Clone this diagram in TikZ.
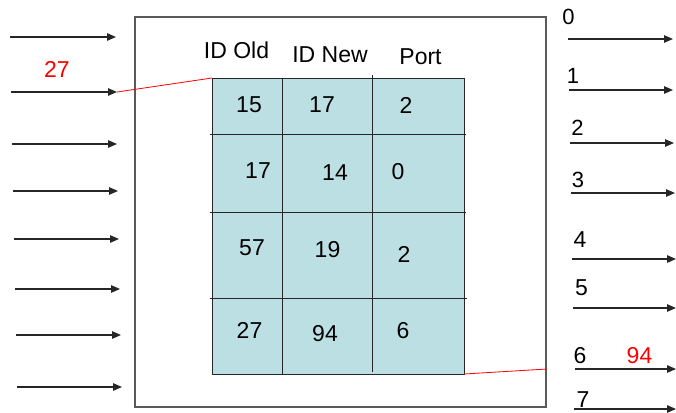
\documentclass[tikz,border=0pt]{standalone}
\usepackage{fontspec}
\setmainfont{Liberation Sans}
\usetikzlibrary{arrows.meta}
\definecolor{cellfill}{HTML}{BBDFE3}
\begin{document}
\begin{tikzpicture}[x=1pt,y=-1pt,
  lbl/.style={inner sep=0pt, anchor=base, font=\fontsize{23}{27}\selectfont},
  smalllbl/.style={inner sep=0pt, anchor=base, font=\fontsize{22}{26}\selectfont},
  linkarrow/.style={draw=black!85, line width=1.2pt, -{Triangle[length=9pt,width=7.5pt]}},
  gridline/.style={draw=black!85, line width=1pt},
  redline/.style={draw=red, line width=0.8pt}]
\useasboundingbox (0,0) rectangle (676,412);
% outer switch box
\node[draw=black!65, line width=1.2pt, inner sep=0pt, outer sep=0pt, minimum width=411pt, minimum height=390pt, anchor=north west] (box) at (135,17) {};
% table
\node[draw=black!85, fill=cellfill, line width=1pt, inner sep=0pt, outer sep=0pt, minimum width=252pt, minimum height=296pt, anchor=north west] (tab) at (212,78) {};
\draw[gridline] (210,134) -- (466,134);
\draw[gridline] (210,212) -- (466,212);
\draw[gridline] (210,298) -- (467,298);
\draw[gridline] (282.5,78) -- (282.5,374);
\draw[gridline] (372,75) -- (372,372);
% headers
\node[lbl] (h1) at (236.5,59) {ID Old};
\node[lbl] (h2) at (330,63) {ID New};
\node[lbl] (h3) at (420.5,64) {Port};
% cells
\node[lbl] (c11) at (249,112) {15};
\node[lbl] (c12) at (322,112) {17};
\node[lbl] (c13) at (406,113) {2};
\node[lbl] (c21) at (258,178) {17};
\node[lbl] (c22) at (335,180) {14};
\node[lbl] (c23) at (398,179) {0};
\node[lbl] (c31) at (252,255) {57};
\node[lbl] (c32) at (327.5,257) {19};
\node[lbl] (c33) at (404,262) {2};
\node[lbl] (c41) at (249.5,338) {27};
\node[lbl] (c42) at (325,341) {94};
\node[lbl] (c43) at (403,338) {6};
% input arrows
\foreach \i/\y/\xs/\xe in {1/37/10/116, 2/92/11/117, 3/144/12/117, 4/191/13/118, 5/239/14/119, 6/289/15/120, 7/335/16/121, 8/387/17/122} {
  \coordinate (inS\i) at (\xs,\y);
  \coordinate (inE\i) at (\xe,\y);
  \draw[linkarrow] (inS\i) -- (inE\i);
}
% output arrows
\foreach \i/\y/\xs/\xe in {0/39/568/673, 1/90/569/673, 2/143/570/674, 3/193/571/675, 4/259/572/676, 5/308/573/676, 6/369/575/676, 7/409/574/676} {
  \coordinate (outS\i) at (\xs,\y);
  \coordinate (outE\i) at (\xe,\y);
  \draw[linkarrow] (outS\i) -- (outE\i);
}
% output port labels
\node[smalllbl] (p0) at (568.5,25) {0};
\node[smalllbl] (p1) at (573,83) {1};
\node[smalllbl] (p2) at (577.5,135) {2};
\node[smalllbl] (p3) at (578,187) {3};
\node[lbl] (p4) at (580,247) {4};
\node[lbl] (p5) at (581.5,295) {5};
\node[lbl] (p6) at (580,363) {6};
\node[lbl] (p7) at (583,407) {7};
% red packet labels and links
\node[lbl, text=red] (pin) at (57,77) {27};
\node[lbl, text=red] (pout) at (639.5,363) {94};
\coordinate (redend) at (547,369);
\draw[redline] (inE2) -- (tab.north west);
\draw[redline] (tab.south east) -- (redend);
\end{tikzpicture}
\end{document}
